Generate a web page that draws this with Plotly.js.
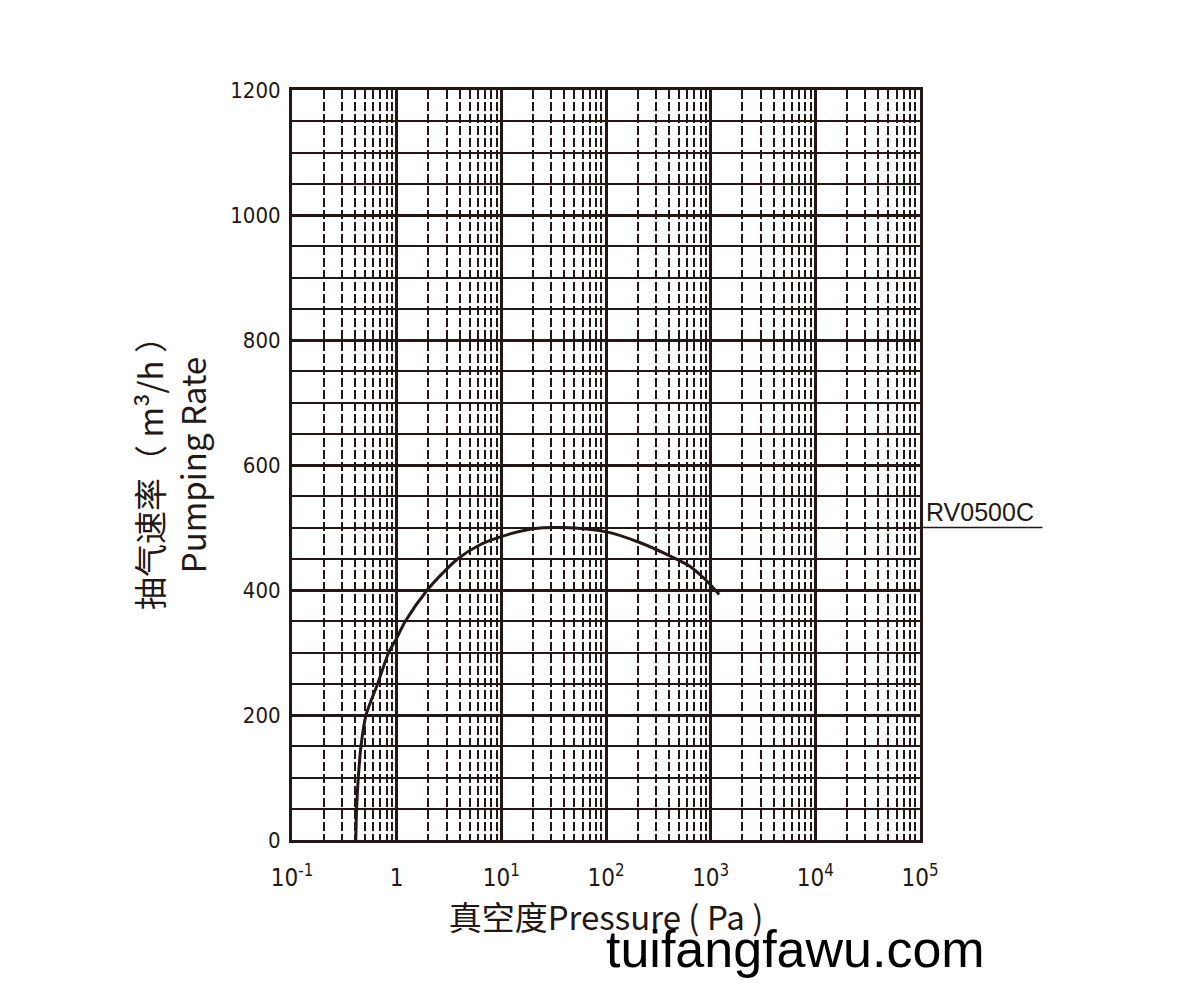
<!DOCTYPE html>
<html>
<head>
<meta charset="utf-8">
<script src="https://cdn.plot.ly/plotly-3.0.1.min.js"></script>
<style>html,body{margin:0;padding:0;background:#fff;}#chart{width:1200px;height:996px;}</style>
</head>
<body>
<div id="chart"></div>
<script>
// Curve: pressure (Pa) vs pumping rate (m3/h)
const pressure = [0.407, 0.414, 0.430, 0.456, 0.51, 0.658, 0.84, 1.0, 1.21, 1.96, 2.75, 3.84, 6.2, 9.8, 20, 38.5, 101, 210, 438, 632, 848, 1000, 1205];
const rate     = [0,     50,    100,   150,   200,  250,   300,  323, 350,  400,  427,  450,  472, 485, 498, 500, 493, 476, 452, 438, 420, 408, 393];
const seriesName = 'RV0500C';

const xTickVals = [0.1, 1, 10, 100, 1000, 10000, 100000];
const xTickText = ['10<sup>-1</sup>', '1', '10<sup>1</sup>', '10<sup>2</sup>', '10<sup>3</sup>', '10<sup>4</sup>', '10<sup>5</sup>'];
const yTickVals = [0, 200, 400, 600, 800, 1000, 1200];

const minorX = [];
for (let e = -1; e < 5; e++) for (let d = 2; d <= 9; d++) minorX.push(d * Math.pow(10, e));

const ink = '#231815';
const narrow = '"Liberation Sans Narrow", "DejaVu Sans Condensed", "Open Sans", sans-serif';
const cjk = '"Noto Sans CJK SC", "Open Sans", sans-serif';

const trace = {
  x: pressure, y: rate, type: 'scatter', mode: 'lines',
  line: {color: ink, width: 3, shape: 'spline', smoothing: 0.8},
  hoverinfo: 'skip', showlegend: false
};

const layout = {
  width: 1200, height: 996,
  margin: {l: 292, r: 280, t: 90, b: 156},
  paper_bgcolor: '#fff', plot_bgcolor: '#fff',
  showlegend: false,
  xaxis: {
    type: 'log', range: [-1, 5],
    tickmode: 'array', tickvals: xTickVals, ticktext: xTickText,
    tickfont: {family: narrow, size: 24, color: ink},
    ticklabelstandoff: 14,
    showgrid: true, gridcolor: ink, gridwidth: 3,
    minor: {tickmode: 'array', tickvals: minorX, showgrid: true, gridcolor: ink, gridwidth: 2, griddash: '9px,3px', ticks: ''},
    showline: true, linecolor: ink, linewidth: 3, mirror: true,
    ticks: '', zeroline: false,
    title: {text: '真空度Pressure ( Pa )', font: {family: cjk, size: 33, color: ink}, standoff: 16}
  },
  yaxis: {
    range: [0, 1200], tickmode: 'array', tickvals: yTickVals,
    tickfont: {family: narrow, size: 22, color: ink},
    showgrid: true, gridcolor: ink, gridwidth: 3,
    minor: {dtick: 50, showgrid: true, gridcolor: ink, gridwidth: 2, ticks: ''},
    showline: true, linecolor: ink, linewidth: 3, mirror: true,
    ticks: 'outside', ticklen: 4, tickcolor: 'rgba(0,0,0,0)',
    zeroline: false,
    title: {text: '抽气速率（ m³/h ）<br>Pumping Rate', font: {family: cjk, size: 33, color: ink}, standoff: 14}
  },
  shapes: [
    {type: 'line', xref: 'paper', yref: 'y', x0: 1, x1: 1.195, y0: 500, y1: 500, line: {color: ink, width: 1.5}}
  ],
  annotations: [
    {text: seriesName, xref: 'paper', yref: 'y', x: 1.006, y: 500, xanchor: 'left', yanchor: 'bottom', yshift: 0, showarrow: false,
     font: {family: '"Liberation Sans", Arial, sans-serif', size: 25, color: ink}},
    {text: 'tuifangfawu.com', xref: 'paper', yref: 'paper', x: (795 - 292) / 628, y: -0.146, xanchor: 'center', yanchor: 'middle', showarrow: false,
     font: {family: '"Liberation Sans", Arial, sans-serif', size: 52, color: '#000'}}
  ]
};

Plotly.newPlot('chart', [trace], layout, {staticPlot: true, displayModeBar: false});
</script>
</body>
</html>
